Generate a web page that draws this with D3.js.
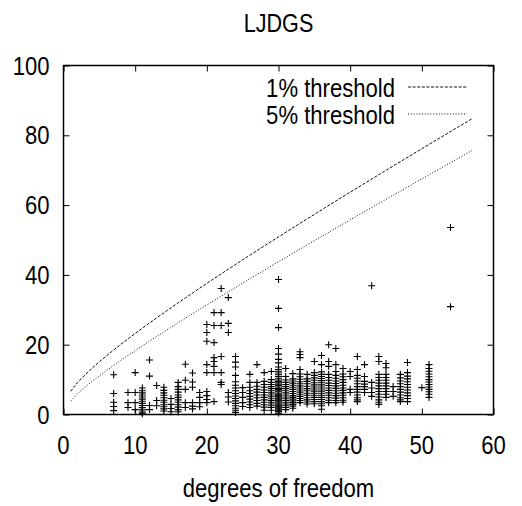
<!DOCTYPE html>
<html>
<head>
<meta charset="utf-8">
<script src="https://cdn.jsdelivr.net/npm/d3@7"></script>
<style>
  html, body { margin: 0; padding: 0; background: #fff; }
  svg { display: block; }
  text { font-family: "Liberation Sans", Arial, Helvetica, sans-serif; fill: #000; }
</style>
</head>
<body>
<svg id="chart" width="522" height="506"></svg>
<script>
// ---------- data ----------
const chartTitle = "LJDGS";
const xLabel = "degrees of freedom";
const xTicks = [0, 10, 20, 30, 40, 50, 60];
const yTicks = [0, 20, 40, 60, 80, 100];
const seriesNames = ["1% threshold", "5% threshold"];

// chi-square critical values at the thresholds, by degrees of freedom
const thresholdDf = [1,2,3,4,5,6,7,8,9,10,11,12,13,14,15,16,17,18,19,20,21,22,23,24,25,26,27,28,29,30,35,40,45,50,55,57];
const threshold1 = [6.635,9.210,11.345,13.277,15.086,16.812,18.475,20.090,21.666,23.209,24.725,26.217,27.688,29.141,30.578,32.000,33.409,34.805,36.191,37.566,38.932,40.289,41.638,42.980,44.314,45.642,46.963,48.278,49.588,50.892,57.342,63.691,69.957,76.154,82.292,84.733];
const threshold5 = [3.841,5.991,7.815,9.488,11.070,12.592,14.067,15.507,16.919,18.307,19.675,21.026,22.362,23.685,24.996,26.296,27.587,28.869,30.144,31.410,32.671,33.924,35.172,36.415,37.652,38.885,40.113,41.337,42.557,43.773,49.802,55.758,61.656,67.505,73.311,75.624];

// observed statistics, grouped by degrees of freedom
const pointDf = [7,9,10,11,12,13,14,15,16,17,18,19,20,21,22,23,24,25,26,27,28,29,30,31,32,33,34,35,36,37,38,39,40,41,42,43,44,45,46,47,48,50,51,54];
const pointStats = [
  [11.4, 6.0, 3.5, 2.3, 1.1],
  [6.3, 3.4, 2.0],
  [12.0, 6.3, 3.4, 1.4],
  [7.6, 6.8, 6.2, 5.6, 5.0, 4.4, 3.8, 3.2, 2.6, 2.0, 1.5, 1.0, 0.5, 0.2],
  [15.6, 11.0, 2.6, 1.4],
  [8.3, 4.0, 2.5],
  [7.8, 6.9, 6.2, 5.5, 4.8, 4.1, 3.5, 2.8, 2.2, 1.6, 1.0],
  [4.6, 2.9, 1.7, 0.8],
  [9.2, 8.0, 7.2, 6.4, 5.6, 4.9, 4.2, 3.5, 2.8, 2.1, 1.4, 0.8],
  [14.4, 9.8, 7.2, 3.4, 2.0],
  [11.9, 9.3, 7.8, 3.4, 2.4, 1.6],
  [6.3, 4.9, 3.4, 2.2],
  [25.8, 23.5, 21.0, 14.3, 12.0, 6.6, 5.4, 4.3, 3.4],
  [29.2, 25.5, 20.6, 16.3, 15.2, 13.8, 12.0, 3.7],
  [36.1, 29.2, 25.5, 16.6, 12.0, 9.2, 8.6],
  [33.5, 26.1, 23.5, 6.3, 5.0, 3.6],
  [16.6, 15.0, 13.6, 11.2, 9.4, 8.4, 7.6, 6.8, 6.0, 5.3, 4.6, 3.9, 3.2, 2.5, 1.8, 1.2, 0.6],
  [7.7, 6.3, 4.9, 3.4, 2.3],
  [11.5, 9.2, 7.8, 6.8, 6.0, 5.2, 4.4, 3.6, 2.8, 2.0],
  [14.3, 9.2, 8.1, 7.2, 6.4, 5.6, 4.8, 4.0, 3.2, 2.4],
  [12.0, 9.5, 8.6, 7.8, 7.0, 6.3, 5.6, 4.9, 4.2, 3.5, 2.8, 2.1, 1.2],
  [12.3, 10.0, 9.2, 8.6, 8.0, 7.4, 6.8, 6.2, 5.6, 5.1, 4.5, 4.0, 3.5, 3.0, 2.5, 2.0, 1.2],
  [38.7, 30.4, 24.9, 18.9, 17.3, 15.8, 14.8, 13.6, 12.9, 12.4, 11.9, 11.4, 10.9, 10.4, 9.9, 9.5, 9.1, 8.7, 8.3, 7.9, 7.5, 7.2, 6.8, 6.5, 6.1, 5.8, 5.4, 5.1, 4.8, 4.5, 4.2, 3.9, 3.6, 3.3, 3.0, 2.7, 2.4, 2.1, 1.8, 1.5, 1.2, 0.9, 0.4],
  [13.2, 10.9, 9.9, 9.2, 8.6, 8.0, 7.4, 6.8, 6.2, 5.6, 5.0, 4.5, 4.0, 3.5, 3.0, 2.5, 2.0, 1.4],
  [11.7, 10.2, 9.6, 9.0, 8.4, 7.8, 7.2, 6.6, 6.0, 5.4, 4.9, 4.4, 3.9, 3.4, 2.9, 2.4, 1.8],
  [18.0, 17.2, 16.3, 12.9, 11.6, 10.8, 10.1, 9.4, 8.8, 8.2, 7.6, 7.0, 6.4, 5.8, 5.2, 4.6, 4.0, 3.4],
  [11.5, 10.2, 9.5, 8.8, 8.1, 7.4, 6.8, 6.1, 5.5, 4.8, 4.2, 3.6, 3.0],
  [15.2, 12.0, 11.2, 10.5, 9.8, 9.1, 8.5, 7.9, 7.3, 6.7, 6.1, 5.5, 4.9, 4.3, 3.7, 3.1],
  [16.9, 14.3, 12.2, 11.5, 10.9, 10.3, 9.7, 9.1, 8.5, 7.9, 7.3, 6.7, 6.1, 5.5, 4.9, 4.3, 3.7, 3.1, 2.5, 1.5],
  [20.0, 15.2, 13.8, 11.5, 10.6, 9.8, 9.0, 8.3, 7.6, 6.9, 6.2, 5.5, 4.8, 4.1, 3.4],
  [18.9, 14.3, 12.3, 11.2, 10.4, 9.6, 8.9, 8.2, 7.5, 6.8, 6.1, 5.4, 4.7, 4.0, 3.4],
  [13.2, 11.6, 10.8, 10.0, 9.2, 8.4, 7.6, 6.9, 6.2, 5.5, 4.8, 4.1, 3.5],
  [12.3, 10.9, 7.2, 6.3],
  [16.6, 12.9, 11.2, 10.4, 9.6, 8.8, 8.0, 7.2, 6.4, 5.6, 4.8, 4.2, 3.7],
  [14.3, 10.9, 9.5, 8.7, 8.0, 7.2, 6.3],
  [36.9, 9.2, 7.6, 6.3, 5.2],
  [16.6, 15.2, 11.5, 10.6, 9.8, 9.0, 8.2, 7.4, 6.6, 5.8, 5.0, 4.2, 3.5, 2.9],
  [14.6, 13.4, 11.5, 10.6, 9.8, 9.0, 8.2, 7.4, 6.6, 5.8, 4.9],
  [8.0, 6.6, 5.2],
  [11.5, 10.5, 9.6, 8.8, 8.0, 7.2, 6.4, 5.6, 4.8, 4.2, 3.7],
  [14.9, 12.0, 11.0, 10.2, 9.4, 8.6, 7.8, 7.0, 6.2, 5.4, 4.6, 3.7],
  [7.7],
  [14.3, 13.2, 12.4, 11.6, 10.8, 10.0, 9.3, 8.6, 7.9, 7.2, 6.5, 5.8, 4.9],
  [53.6, 30.9]
];

// ---------- layout ----------
const W = 522, H = 506;
const plot = { left: 63.5, right: 493.5, top: 65.5, bottom: 414.5 };
const SX = 0.85; // horizontal squeeze to mimic the narrow gnuplot font

const svg = d3.select("#chart");
const x = d3.scaleLinear().domain([0, 60]).range([plot.left, plot.right]);
const y = d3.scaleLinear().domain([0, 100]).range([plot.bottom, plot.top]);

function narrowText(g, px, py, str, size, anchor, sx) {
  return g.append("text")
    .attr("transform", `translate(${px},${py}) scale(${sx || SX},1)`)
    .attr("text-anchor", anchor || "middle")
    .style("font-size", size + "px")
    .text(str);
}

// title
narrowText(svg, (plot.left + plot.right) / 2, 32, chartTitle, 26, "middle", 0.83);

// axes (ticks inward, mirrored)
const axB = svg.append("g").attr("transform", `translate(0,${plot.bottom})`)
  .call(d3.axisBottom(x).tickValues(xTicks).tickSize(-6).tickFormat(""));
const axT = svg.append("g").attr("transform", `translate(0,${plot.top})`)
  .call(d3.axisTop(x).tickValues(xTicks).tickSize(-6).tickFormat(""));
const axL = svg.append("g").attr("transform", `translate(${plot.left},0)`)
  .call(d3.axisLeft(y).tickValues(yTicks).tickSize(-6).tickFormat(""));
const axR = svg.append("g").attr("transform", `translate(${plot.right},0)`)
  .call(d3.axisRight(y).tickValues(yTicks).tickSize(-6).tickFormat(""));
[axB, axT, axL, axR].forEach(a => {
  a.select(".domain").remove();
  a.selectAll("line").attr("stroke", "#000").attr("stroke-width", 1);
});

// tick labels
const labels = svg.append("g");
xTicks.forEach(t => narrowText(labels, x(t), 454, String(t), 26, "middle"));
yTicks.forEach(t => narrowText(labels, plot.left - 14, y(t) + 9, String(t), 26, "end"));

// x label
narrowText(svg, (plot.left + plot.right) / 2, 497, xLabel, 26, "middle");

// frame
svg.append("rect")
  .attr("x", plot.left).attr("y", plot.top)
  .attr("width", plot.right - plot.left).attr("height", plot.bottom - plot.top)
  .attr("fill", "none").attr("stroke", "#000").attr("stroke-width", 1.5);

// threshold lines
const lineStyles = [
  { data: threshold1, dash: "3,1.6", color: "#111" },
  { data: threshold5, dash: "1,1.8", color: "#111" }
];
const lineGen = vals => d3.line()
  .x((d, i) => x(thresholdDf[i]))
  .y((d) => y(d))
  .curve(d3.curveMonotoneX)(vals);
lineStyles.forEach(s => {
  svg.append("path")
    .attr("d", lineGen(s.data))
    .attr("fill", "none")
    .attr("stroke", s.color)
    .attr("stroke-width", 1)
    .attr("stroke-dasharray", s.dash);
});

// points
const pts = [];
pointDf.forEach((df, i) => pointStats[i].forEach(v => pts.push([df, v])));
const r = 3.5;
svg.append("g").selectAll("path.pt").data(pts).join("path")
  .attr("class", "pt")
  .attr("d", d => {
    const cx = x(d[0]), cy = y(d[1]);
    return `M${cx - r},${cy}H${cx + r}M${cx},${cy - r}V${cy + r}`;
  })
  .attr("stroke", "#000")
  .attr("stroke-width", 1.1)
  .attr("fill", "none");

// legend
const legY = [88, 115];
seriesNames.forEach((name, i) => {
  narrowText(svg, 395, legY[i] + 9, name, 26, "end");
  svg.append("line")
    .attr("x1", 408).attr("x2", 467)
    .attr("y1", legY[i] - 1).attr("y2", legY[i] - 1)
    .attr("stroke", lineStyles[i].color)
    .attr("stroke-width", 1)
    .attr("stroke-dasharray", lineStyles[i].dash);
});
</script>
</body>
</html>
